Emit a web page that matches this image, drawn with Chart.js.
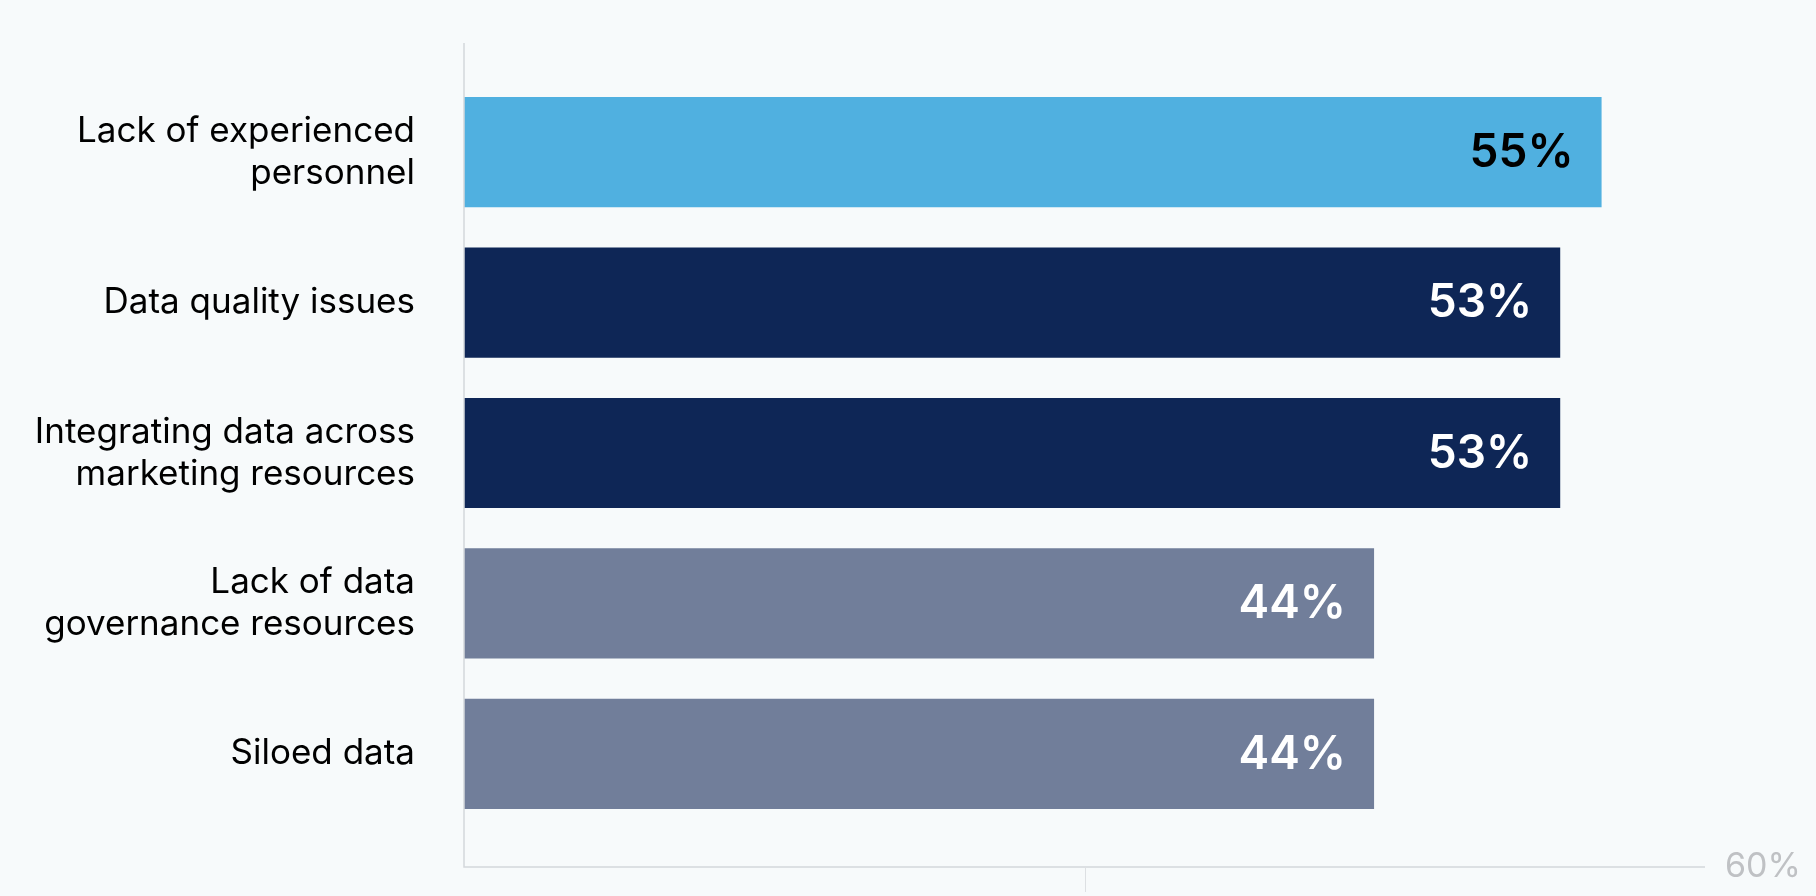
<!DOCTYPE html>
<html>
<head>
<meta charset="utf-8">
<script src="https://cdn.jsdelivr.net/npm/chart.js@4.4.1/dist/chart.umd.min.js"></script>
<style>
  html, body { margin: 0; padding: 0; background: #F7FAFB; overflow: hidden; }
  canvas { display: block; }
</style>
</head>
<body>
<canvas id="c" width="1816" height="896" style="width:1816px;height:896px"></canvas>
<script>
const categories = [
  ["Lack of experienced", "personnel"],
  "Data quality issues",
  ["Integrating data across", "marketing resources"],
  ["Lack of data", "governance resources"],
  "Siloed data"
];
const values = [55, 53, 53, 44, 44];
const barColors = ["#50B0E0", "#0E2656", "#0E2656", "#717E9A", "#717E9A"];
const valueLabelColors = ["#000000", "#FFFFFF", "#FFFFFF", "#FFFFFF", "#FFFFFF"];
const axisMax = 60;
const axisMidTick = 30;
const axisEndLabel = "60%";

const FONT = "Inter, 'Open Sans', sans-serif";

const bgPlugin = {
  id: 'bg',
  beforeDraw(chart) {
    const ctx = chart.ctx;
    ctx.save();
    ctx.fillStyle = '#F7FAFB';
    ctx.fillRect(0, 0, chart.width, chart.height);
    ctx.restore();
  }
};

const axisPlugin = {
  id: 'axisDeco',
  afterDatasetsDraw(chart) {
    const ctx = chart.ctx;
    const xs = chart.scales.x;
    const area = chart.chartArea;
    const x0 = xs.getPixelForValue(0);
    const xEnd = xs.getPixelForValue(axisMax);
    const xMid = xs.getPixelForValue(axisMidTick);
    const top = area.top - 34;
    const base = area.bottom + 38;
    ctx.save();
    ctx.strokeStyle = '#D4D7DB';
    ctx.lineWidth = 1.5;
    ctx.beginPath();
    ctx.moveTo(x0, top);
    ctx.lineTo(x0, base);
    ctx.lineTo(xEnd, base);
    ctx.stroke();
    ctx.strokeStyle = '#DDE0E3';
    ctx.lineWidth = 1;
    ctx.beginPath();
    ctx.moveTo(Math.round(xMid) + 0.5, base);
    ctx.lineTo(Math.round(xMid) + 0.5, base + 25);
    ctx.stroke();
    ctx.fillStyle = '#BFC1C4';
    ctx.font = "34px " + FONT;
    ctx.textAlign = 'left';
    ctx.textBaseline = 'middle';
    ctx.fillText(axisEndLabel, xEnd + 20, base);
    ctx.restore();
  }
};

const valueLabelPlugin = {
  id: 'valueLabels',
  afterDatasetsDraw(chart) {
    const ctx = chart.ctx;
    const meta = chart.getDatasetMeta(0);
    ctx.save();
    ctx.font = "600 46px " + FONT;
    ctx.textAlign = 'right';
    ctx.textBaseline = 'middle';
    meta.data.forEach((bar, i) => {
      ctx.fillStyle = valueLabelColors[i];
      ctx.fillText(values[i] + '%', bar.x - 28, bar.y + 1);
    });
    ctx.restore();
  }
};

new Chart(document.getElementById('c'), {
  type: 'bar',
  data: {
    labels: categories,
    datasets: [{
      data: values,
      backgroundColor: barColors,
      borderWidth: 0,
      barPercentage: 0.733,
      categoryPercentage: 1
    }]
  },
  options: {
    indexAxis: 'y',
    responsive: false,
    animation: false,
    layout: { padding: { top: 77, bottom: 67, right: 111, left: 0 } },
    plugins: { legend: { display: false }, tooltip: { enabled: false } },
    scales: {
      x: { display: false, min: 0, max: axisMax },
      y: {
        grid: { display: true, drawOnChartArea: false, drawTicks: true, tickLength: 49, color: 'rgba(0,0,0,0)' },
        border: { display: false },
        ticks: {
          color: '#000000',
          padding: 0,
          font: { family: FONT, size: 35, lineHeight: 1.2 }
        },
        afterFit(scale) { scale.width = 464; }
      }
    }
  },
  plugins: [bgPlugin, axisPlugin, valueLabelPlugin]
});
</script>
</body>
</html>
